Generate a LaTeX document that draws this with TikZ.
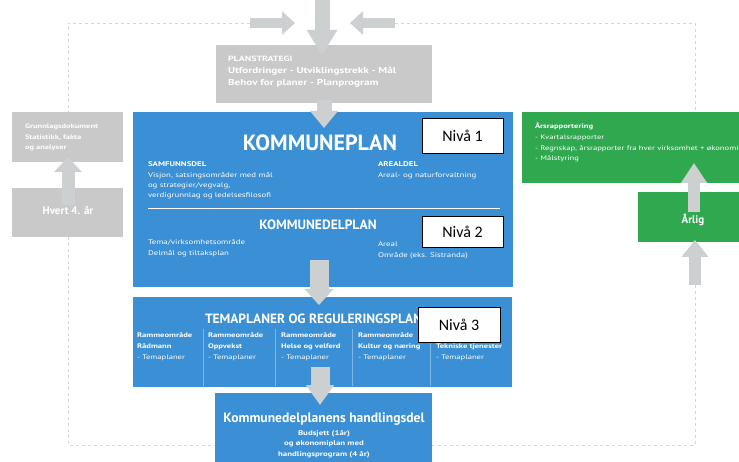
\documentclass[tikz,border=0pt]{standalone}
\usepackage{fontspec}
\setmainfont{PT Sans}
\newfontfamily\nivafont{Carlito}
\newfontfamily\widefont[FakeStretch=1.3]{PT Sans}
\usetikzlibrary{arrows.meta}
\definecolor{kblue}{HTML}{3A8FD5}
\definecolor{kgray}{HTML}{C9C9C9}
\definecolor{kgreen}{HTML}{2FA84F}
\definecolor{karrow}{HTML}{CDD0D1}
\definecolor{kdash}{HTML}{D6D6D6}
\begin{document}
\begin{tikzpicture}[x=1pt,y=-1pt,
  every node/.style={inner sep=0pt,outer sep=0pt},
  panel/.style={anchor=north west},
  wtxt/.style={text=white,align=left,anchor=north west},
  nivabox/.style={fill=white,draw=black,line width=0.6pt,anchor=north west,font=\nivafont\fontsize{16}{16}\selectfont},
  blockarrow/.style={draw=karrow,line width=#1},
  dashline/.style={draw=kdash,dashed,line width=0.8pt},
  sepline/.style={draw=white,opacity=0.35,line width=0.5pt}]
\useasboundingbox (0,0) rectangle (739,462);
\clip (0,0) rectangle (739,462);

% named points for dashed loop and arrows
\coordinate (tl) at (68,23);
\coordinate (bl) at (68,445);
\coordinate (tr) at (695,23);
\coordinate (br) at (695,445);
\coordinate (gtop) at (695,112);

% ---------- boxes ----------
\node[panel,fill=kgray,minimum width=216pt,minimum height=58pt] (ps) at (216,45) {};
\node[panel,fill=kblue,minimum width=380pt,minimum height=175pt] (kp) at (133,112) {};
\node[panel,fill=kblue,minimum width=379pt,minimum height=90pt] (tp) at (133,297) {};
\node[panel,fill=kblue,minimum width=217pt,minimum height=75pt] (hd) at (215,393) {};
\node[panel,fill=kgreen,minimum width=220pt,minimum height=71pt] (ar) at (522,112) {};
\node[panel,fill=kgreen,minimum width=105pt,minimum height=50pt] (al) at (638,192) {};

% ---------- dashed loop ----------
\coordinate (lt) at (250,23);
\coordinate (rt) at (395,23);
\coordinate (hl) at (215,445);
\coordinate (hr) at (432,445);
\coordinate (ab) at (695,285);
\draw[dashline] (lt) -- (tl) -- (bl) -- (hl);
\draw[dashline] (rt) -- (tr) -- (gtop);
\draw[dashline] (ab) -- (br) -- (hr);
% left boxes above dashed line
\node[panel,fill=kgray,minimum width=111pt,minimum height=50pt] (gd) at (12,112) {};
\node[panel,fill=kgray,minimum width=111pt,minimum height=49pt] (h4) at (12,188) {};

% ---------- texts: planstrategi ----------
\node[wtxt,font=\widefont\bfseries\fontsize{7.6}{8}\selectfont] (pst) at (228,56) {PLANSTRATEGI};
\node[wtxt,font=\widefont\bfseries\fontsize{8.6}{12.5}\selectfont] (psb) at (228,67)
  {Utfordringer - Utviklingstrekk - Mål\\Behov for planer - Planprogram};

% ---------- kommuneplan ----------
\node[text=white,font=\bfseries\fontsize{22}{22}\selectfont] (kpt) at (320,143) {KOMMUNEPLAN};
\node[wtxt,font=\widefont\fontsize{6.8}{10.3}\selectfont] (sam) at (148,162)
  {\textbf{SAMFUNNSDEL}\\Visjon, satsingsområder med mål\\og strategier/vegvalg,\\verdigrunnlag og ledelsesfilosofi};
\node[wtxt,font=\widefont\fontsize{6.8}{10.3}\selectfont] (are) at (378,162)
  {\textbf{AREALDEL}\\Areal- og naturforvaltning};
\coordinate (sl1) at (148,208);
\coordinate (sl2) at (500,208);
\draw[draw=white,line width=0.8pt] (sl1) -- (sl2);
\node[text=white,font=\bfseries\fontsize{13.5}{14}\selectfont] (kdp) at (318,225) {KOMMUNEDELPLAN};
\node[wtxt,font=\widefont\fontsize{6.8}{10.3}\selectfont] (tema) at (148,240)
  {Tema/virksomhetsområde\\Delmål og tiltaksplan};
\node[wtxt,font=\widefont\fontsize{6.8}{10.3}\selectfont] (omr) at (378,242)
  {Areal\\Område (eks. Sistranda)};
\node[nivabox,minimum width=81pt,minimum height=35pt] (n1) at (422,118) {Nivå 1};
\node[nivabox,minimum width=81pt,minimum height=31pt] (n2) at (422,216) {Nivå 2};

% ---------- temaplaner ----------
\node[text=white,font=\bfseries\fontsize{13.4}{14}\selectfont,anchor=west] (tpt) at (205,319) {TEMAPLANER OG REGULERINGSPLANER};
\foreach \x/\n in {203/s1,275/s2,352/s3,430/s4}{
  \coordinate (\n a) at (\x,329);
  \coordinate (\n b) at (\x,386);
  \draw[sepline] (\n a) -- (\n b);
}
\node[wtxt,font=\widefont\fontsize{6.6}{10.8}\selectfont] (c1) at (137,333) {\textbf{Rammeområde}\\\textbf{Rådmann}\\- Temaplaner};
\node[wtxt,font=\widefont\fontsize{6.6}{10.8}\selectfont] (c2) at (208,333) {\textbf{Rammeområde}\\\textbf{Oppvekst}\\- Temaplaner};
\node[wtxt,font=\widefont\fontsize{6.6}{10.8}\selectfont] (c3) at (281,333) {\textbf{Rammeområde}\\\textbf{Helse og velferd}\\- Temaplaner};
\node[wtxt,font=\widefont\fontsize{6.6}{10.8}\selectfont] (c4) at (358,333) {\textbf{Rammeområde}\\\textbf{Kultur og næring}\\- Temaplaner};
\node[wtxt,font=\widefont\fontsize{6.6}{10.8}\selectfont] (c5) at (436,333) {\textbf{Rammeområde}\\\textbf{Tekniske tjenester}\\- Temaplaner};
\node[nivabox,minimum width=82pt,minimum height=35pt] (n3) at (418,307) {Nivå 3};

% ---------- handlingsdel ----------
\node[text=white,font=\bfseries\fontsize{13.6}{14}\selectfont] (hdt) at (324,419) {Kommunedelplanens handlingsdel};
\node[text=white,align=center,font=\widefont\bfseries\fontsize{6.8}{10.5}\selectfont,anchor=north] (hdb) at (324,430)
  {Budsjett (1år)\\og økonomiplan med\\handlingsprogram (4 år)};

% ---------- left boxes ----------
\node[wtxt,font=\widefont\bfseries\fontsize{6.5}{10.5}\selectfont] (gdt) at (25,124)
  {Grunnlagsdokument\\Statistikk, fakta\\og analyser};
\node[text=white,font=\bfseries\fontsize{11}{11}\selectfont] (h4t) at (68,210) {Hvert 4. år};

% ---------- green boxes ----------
\node[wtxt,font=\widefont\fontsize{6.6}{10.7}\selectfont] (art) at (535,123)
  {\textbf{Årsrapportering}\\- Kvartalsrapporter\\- Regnskap, årsrapporter fra hver virksomhet + økonomi\\- Målstyring};
\node[text=white,font=\bfseries\fontsize{11}{11}\selectfont] (alt) at (693,220) {Årlig};

% ---------- block arrows ----------
\coordinate (a1s) at (322,0);   \coordinate (a1e) at (322,55);
\coordinate (a2e) at (295,23);
\coordinate (a3e) at (350,23);
\coordinate (a4s) at (324,100); \coordinate (a4e) at (324,128);
\coordinate (a5s) at (319,260); \coordinate (a5e) at (319,305);
\coordinate (a6s) at (320,367); \coordinate (a6e) at (320,405);
\coordinate (a7s) at (68,205);  \coordinate (a7e) at (68,157);
\coordinate (a8s) at (694,212); \coordinate (a8e) at (694,163);
\coordinate (a9e) at (695,240);
\draw[blockarrow=15pt,-{Triangle[width=29pt,length=25pt]}] (a1s) -- (a1e);
\draw[blockarrow=10pt,-{Triangle[width=23pt,length=13pt]}] (lt) -- (a2e);
\draw[blockarrow=10pt,-{Triangle[width=23pt,length=13pt]}] (rt) -- (a3e);
\draw[blockarrow=15pt,-{Triangle[width=27pt,length=17pt]}] (a4s) -- (a4e);
\draw[blockarrow=19pt,-{Triangle[width=28pt,length=16pt]}] (a5s) -- (a5e);
\draw[blockarrow=19pt,-{Triangle[width=27pt,length=20pt]}] (a6s) -- (a6e);
\draw[blockarrow=13pt,-{Triangle[width=27pt,length=15pt]}] (a7s) -- (a7e);
\draw[blockarrow=12pt,-{Triangle[width=25pt,length=20pt]}] (a8s) -- (a8e);
\draw[blockarrow=12pt,-{Triangle[width=26pt,length=17pt]}] (ab) -- (a9e);
\end{tikzpicture}
\end{document}
